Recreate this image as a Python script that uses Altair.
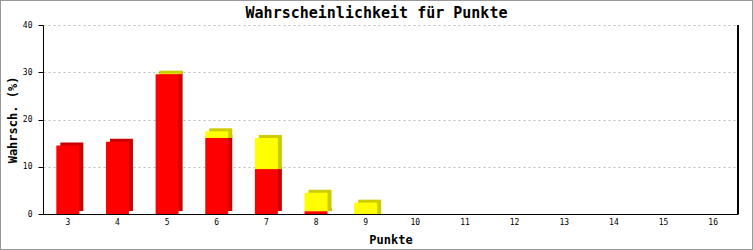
import altair as alt
import pandas as pd

titel = "Wahrscheinlichkeit für Punkte"
punkte = [3, 4, 5, 6, 7, 8, 9, 10, 11, 12, 13, 14, 15, 16]
rot = [14.5, 15.3, 29.6, 16.1, 9.5, 0.6, 0, 0, 0, 0, 0, 0, 0, 0]
gelb = [0, 0, 0.1, 1.4, 6.6, 3.9, 2.4, 0, 0, 0, 0, 0, 0, 0]

rows = []
for p, r, g in zip(punkte, rot, gelb):
    rows.append({"punkte": p, "serie": "rot", "ord": 0, "wert": r})
    rows.append({"punkte": p, "serie": "gelb", "ord": 1, "wert": g})
df = pd.DataFrame(rows)

W, H = 695, 189
FONT = "DejaVu Sans Mono"
BAR = 23
DX, DY = 4, -3

base = alt.Chart(df).transform_stack(
    stack="wert", groupby=["punkte"], as_=["y0", "y1"], sort=[alt.SortField("ord")]
)

xenc = alt.X(
    "punkte:O",
    title="Punkte",
    scale=alt.Scale(domain=punkte, paddingInner=0, paddingOuter=0),
    axis=alt.Axis(
        labelAngle=0, ticks=False, labelFont=FONT, labelFontSize=8, labelPadding=4,
        labelColor="black", domainColor="black", domainWidth=1,
        titleFont=FONT, titleFontSize=12, titleFontWeight="bold", titleColor="black",
        titleY=29, titleBaseline="alphabetic",
    ),
)
yenc = alt.Y(
    "y1:Q",
    title="Wahrsch. (%)",
    scale=alt.Scale(domain=[0, 40], nice=False),
    axis=alt.Axis(
        values=[0, 10, 20, 30, 40], tickSize=5, tickColor="black", labelFont=FONT,
        labelFontSize=8, labelPadding=6, labelColor="black", domainColor="black",
        grid=True, gridDash=[2, 3], gridColor="#bbbbbb",
        titleFont=FONT, titleFontSize=12, titleFontWeight="bold", titleColor="black",
        titleAngle=-90, titleX=-27, titleY=H / 2, titleBaseline="alphabetic", titleAlign="center",
    ),
)

shadow_rot = base.transform_filter("datum.serie == 'rot' && datum.wert > 0").mark_bar(
    color="#cc0000", size=BAR, xOffset=DX, yOffset=DY, y2Offset=DY
).encode(x=xenc, y=yenc, y2="y0:Q")
shadow_gelb = base.transform_filter("datum.serie == 'gelb' && datum.wert > 0").mark_bar(
    color="#cccc00", size=BAR, xOffset=DX, yOffset=DY, y2Offset=0
).encode(x=xenc, y=yenc, y2="y0:Q")
front_rot = base.transform_filter("datum.serie == 'rot' && datum.wert > 0").mark_bar(
    color="#ff0000", size=BAR
).encode(x=xenc, y=yenc, y2="y0:Q")
front_gelb = base.transform_filter("datum.serie == 'gelb' && datum.wert > 0").mark_bar(
    color="#ffff00", size=BAR
).encode(x=xenc, y=yenc, y2="y0:Q")

right_line = alt.Chart(df).mark_rule(color="black", strokeWidth=1).encode(
    x=alt.value(W), y=alt.value(0), y2=alt.value(H)
)
border = alt.Chart(df).mark_rect(fill=None, stroke="#999999", strokeWidth=1).encode(
    x=alt.value(-42.5), x2=alt.value(709.5), y=alt.value(-24.5), y2=alt.value(224.5)
)
title_mark = alt.Chart(pd.DataFrame({"t": [titel]})).mark_text(
    font=FONT, fontSize=15, fontWeight="bold", color="black",
    align="center", baseline="alphabetic",
).encode(x=alt.value(333.5), y=alt.value(-7), text="t:N")

chart = alt.layer(
    shadow_rot, shadow_gelb, front_rot, front_gelb, right_line, border, title_mark
).properties(
    width=W,
    height=H,
    padding={"left": 43, "top": 25, "right": 15, "bottom": 36},
    autosize=alt.AutoSizeParams(type="none"),
    background="white",
).configure_view(stroke=None)

chart.save("out.html", embed_options={"renderer": "svg", "actions": False})
